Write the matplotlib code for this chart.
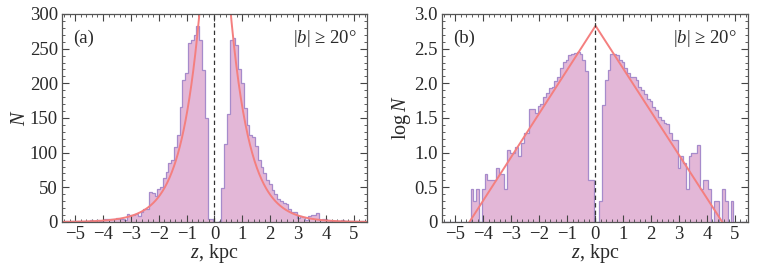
import numpy as np
import matplotlib
matplotlib.use("Agg")
import matplotlib.pyplot as plt
from matplotlib.ticker import MultipleLocator

# ---- data -------------------------------------------------------------
bin_width = 0.1
z_first_edge = -5.45
# counts per 0.1-kpc bin, bin centres -5.4 ... 5.4
counts = [
    # -5.4 .. -4.5
    0, 1, 0, 1, 0, 1, 1, 0, 1, 0,
    # -4.4 .. -3.5
    3, 2, 3, 1, 3, 5, 4, 4, 4, 6,
    # -3.4 .. -2.5
    5, 5, 3, 11, 10, 10, 12, 9, 14, 19,
    # -2.4 .. -1.5
    19, 43, 42, 37, 47, 50, 63, 72, 85, 90,
    # -1.4 .. -0.5
    108, 125, 166, 205, 215, 258, 262, 270, 283, 262,
    # -0.4 .. 0.5
    219, 150, 4, 4, 0, 0, 2, 49, 112, 156,
    # 0.6 .. 1.5
    262, 265, 255, 220, 200, 165, 140, 125, 122, 110,
    # 1.6 .. 2.5
    90, 80, 70, 60, 55, 46, 41, 33, 30, 27,
    # 2.6 .. 3.5
    26, 19, 15, 15, 6, 9, 7, 3, 9, 10,
    # 3.6 .. 4.5
    10, 13, 3, 4, 4, 3, 1, 2, 2, 1,
    # 4.6 .. 5.4
    3, 2, 1, 2, 1, 1, 0, 1, 0,
]
# exponential fit: log N linear in |z| (break points of the fitted line)
fit_z = [-4.49, 0.02, 4.55]
fit_logN = [0.0, 2.83, 0.0]

panel_labels = ["(a)", "(b)"]
ylabels = [r"$N$", r"log$\,N$"]
xticks = [-5, -4, -3, -2, -1, 0, 1, 2, 3, 4, 5]

# ---- derived ----------------------------------------------------------
counts = np.array(counts, dtype=float)
edges = z_first_edge + bin_width * np.arange(len(counts) + 1)
logc = np.where(counts > 0, np.log10(np.maximum(counts, 1)), 0.0)

fill_c = "#E3B7D7"
edge_c = "#A68BCB"
fit_c = "#F47F7F"
txt_c = "#2a2a2a"

plt.rcParams["font.family"] = ["Liberation Serif", "DejaVu Serif"]
plt.rcParams["mathtext.fontset"] = "custom"
plt.rcParams["mathtext.rm"] = "Liberation Serif"
plt.rcParams["mathtext.it"] = "Liberation Serif:italic"

fig = plt.figure(figsize=(7.63, 2.67), dpi=100)
ax_a = fig.add_axes([62 / 763, 1 - 222 / 267, (367 - 62) / 763, (222 - 14) / 267])
ax_b = fig.add_axes([442 / 763, 1 - 222 / 267, (748 - 442) / 763, (222 - 14) / 267])

# panel (a)
ax_a.stairs(counts, edges, fill=True, color=fill_c, lw=0)
ax_a.stairs(counts, edges, color=edge_c, lw=0.9)
zz = np.linspace(-5.5, 5.5, 800)
slope_l = (fit_logN[1] - fit_logN[0]) / (fit_z[1] - fit_z[0])
slope_r = (fit_logN[1] - fit_logN[2]) / (fit_z[2] - fit_z[1])
logfit = np.where(zz < fit_z[1],
                  fit_logN[1] - slope_l * (fit_z[1] - zz),
                  fit_logN[1] - slope_r * (zz - fit_z[1]))
ax_a.plot(zz, 10 ** logfit, color=fit_c, lw=1.4)
ax_a.set_ylim(0, 300)
ax_a.set_yticks([0, 50, 100, 150, 200, 250, 300])
ax_a.yaxis.set_minor_locator(MultipleLocator(10))

# panel (b)
ax_b.stairs(logc, edges, fill=True, color=fill_c, lw=0)
ax_b.stairs(logc, edges, color=edge_c, lw=0.9)
ax_b.plot(fit_z, fit_logN, color=fit_c, lw=1.4)
ax_b.set_ylim(0, 3.0)
ax_b.set_yticks([0, 0.5, 1.0, 1.5, 2.0, 2.5, 3.0])
ax_b.set_yticklabels(["0", "0.5", "1.0", "1.5", "2.0", "2.5", "3.0"])
ax_b.yaxis.set_minor_locator(MultipleLocator(0.1))

for ax, lab, yl, lp in zip([ax_a, ax_b], panel_labels, ylabels, [0, 1]):
    ax.axvline(0, color="#333333", lw=0.9, ls=(0, (3.5, 2.5)))
    ax.set_xlim(-5.47, 5.47)
    ax.set_xticks(xticks)
    ax.set_xticklabels([("\u2212%d" % -t) if t < 0 else str(t) for t in xticks])
    ax.xaxis.set_minor_locator(MultipleLocator(0.2))
    ax.tick_params(which="both", direction="in", top=True, right=True,
                   labelsize=13.5, colors="#444444", labelcolor=txt_c)
    ax.tick_params(which="major", length=5, width=0.8, pad=3)
    ax.tick_params(which="minor", length=2.5, width=0.6)
    for s in ax.spines.values():
        s.set_color("#555555")
        s.set_linewidth(0.9)
    ax.set_xlabel(r"$z$, kpc", fontsize=14.5, labelpad=-1, color=txt_c)
    ax.set_ylabel(yl, fontsize=14.5, labelpad=lp, color=txt_c)
    ax.text(0.035, 0.86, lab, transform=ax.transAxes, fontsize=13.5, color=txt_c)
    ax.text(0.965, 0.86, r"$|b|$" + " \u2265 20\u00b0", transform=ax.transAxes,
            fontsize=13.5, ha="right", color=txt_c)

fig.savefig("out.png", dpi=100)
